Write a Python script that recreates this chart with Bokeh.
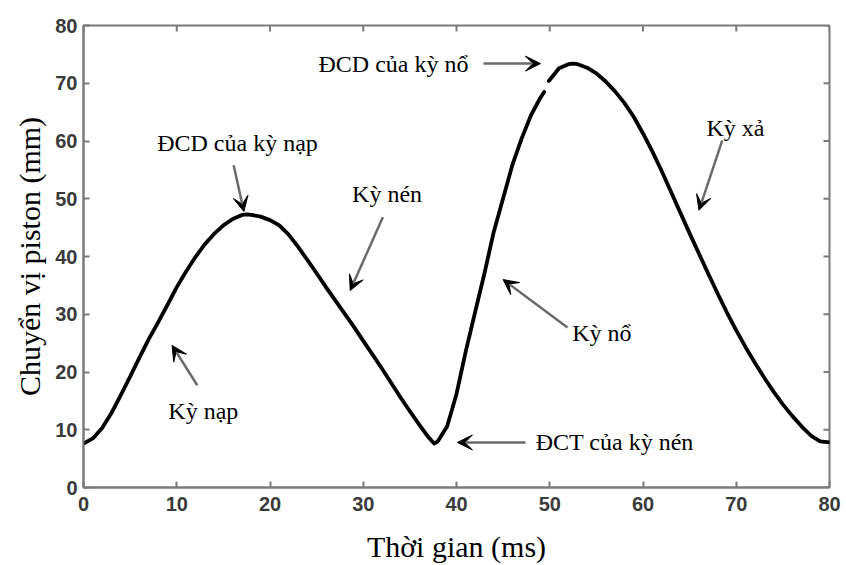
import math
from bokeh.plotting import figure
from bokeh.models import Range1d, FixedTicker, Label, Arrow, VeeHead, ColumnDataSource
from bokeh.embed import file_html
from bokeh.resources import INLINE

# Piston displacement over one engine cycle (time in ms, displacement in mm)
time_ms = [0, 1, 2, 3, 4, 5, 6, 7, 8, 9, 10, 11, 12, 13, 14, 15, 16, 17, 17.5,
           18, 19, 20, 21, 22, 23, 24, 25, 26, 27, 28, 29, 30, 31, 32, 33, 34,
           35, 36, 37, 37.6, 38, 39, 40, 41, 42, 43, 44, 45, 46, 47, 48, 49,
           49.4, 49.9, 51, 52, 52.5, 53, 54, 55, 56, 57, 58, 59, 60, 61, 62,
           63, 64, 65, 66, 67, 68, 69, 70, 71, 72, 73, 74, 75, 76, 77, 78, 79, 80]
displacement_mm = [7.6, 8.5, 10.3, 12.9, 16.0, 19.2, 22.5, 25.7, 28.6, 31.6, 34.7,
                   37.4, 39.9, 42.1, 43.9, 45.4, 46.5, 47.2, 47.3,
                   47.2, 46.9, 46.3, 45.4, 43.8, 41.7, 39.4, 37.1, 34.7, 32.4,
                   30.1, 27.8, 25.4, 23.0, 20.6, 18.1, 15.6, 13.2, 10.9, 8.7, 7.6,
                   8.0, 10.6, 16.2, 23.6, 30.4, 37.1, 44.3, 50.1, 55.9, 60.5, 64.5,
                   67.5, 68.5, 70.4, 72.6, 73.3, 73.4, 73.3, 72.7, 71.7, 70.3, 68.6,
                   66.6, 64.2, 61.3, 58.2, 54.8, 51.2, 47.6, 44.0, 40.5, 37.0, 33.6,
                   30.3, 27.2, 24.3, 21.6, 19.0, 16.6, 14.4, 12.4, 10.6, 9.0, 8.0, 7.8]
# the trace has a small break just before the power-stroke peak
break_after_ms = 49.4

x_ticks = [0, 10, 20, 30, 40, 50, 60, 70, 80]
y_ticks = [0, 10, 20, 30, 40, 50, 60, 70, 80]

x_title = "Thời gian (ms)"
y_title = "Chuyển vị piston (mm)"

# annotation texts: (text, x, y) with the left edge at x
notes = [
    ("ĐCD của kỳ nạp", 7.9, 59.6),
    ("Kỳ nén", 28.8, 50.9),
    ("Kỳ nạp", 9.1, 13.3),
    ("ĐCD của kỳ nổ", 25.2, 73.4),
    ("Kỳ nổ", 52.4, 26.7),
    ("ĐCT của kỳ nén", 48.5, 7.8),
    ("Kỳ xả", 66.8, 62.2),
]
# arrows: (x_start, y_start, x_tip, y_tip)
pointers = [
    (16.1, 55.8, 17.2, 47.8),
    (32.1, 46.8, 28.6, 34.1),
    (12.2, 17.7, 9.5, 24.6),
    (42.9, 73.4, 49.0, 73.4),
    (51.9, 27.7, 45.0, 36.0),
    (47.4, 7.8, 40.1, 7.8),
    (68.5, 60.1, 66.0, 48.0),
]

FRAME = "#7a7a7a"
TICK_TEXT = "#3a3a3a"
SERIF = "Liberation Serif"

x_lo, x_hi = 0, 80
y_lo, y_hi = 0, 80

p = figure(frame_width=746, frame_height=462,
           x_range=Range1d(x_lo, x_hi), y_range=Range1d(y_lo, y_hi),
           output_backend="svg", toolbar_location=None,
           min_border_left=83, min_border_right=17,
           min_border_top=25, min_border_bottom=78)
p.background_fill_color = "white"
p.border_fill_color = "white"
p.outline_line_color = FRAME
p.outline_line_width = 2
p.xgrid.visible = False
p.ygrid.visible = False

for ax, ticks in ((p.xaxis[0], x_ticks), (p.yaxis[0], y_ticks)):
    ax.ticker = FixedTicker(ticks=ticks)
    ax.major_tick_in = 6
    ax.major_tick_out = 0
    ax.major_tick_line_color = FRAME
    ax.major_tick_line_width = 2
    ax.minor_tick_line_color = None
    ax.axis_line_color = FRAME
    ax.axis_line_width = 2
    ax.major_label_text_font = "Liberation Sans"
    ax.major_label_text_font_style = "bold"
    ax.major_label_text_font_size = "20px"
    ax.major_label_text_color = TICK_TEXT
    ax.axis_label_text_font = SERIF
    ax.axis_label_text_font_style = "normal"
    ax.axis_label_text_font_size = "30px"
    ax.axis_label_text_color = "black"

p.xaxis[0].axis_label = x_title
p.xaxis[0].major_label_standoff = 9
p.xaxis[0].axis_label_standoff = 16
p.yaxis[0].axis_label = y_title
p.yaxis[0].major_label_standoff = 6
p.yaxis[0].axis_label_standoff = 6

# mirrored inner ticks along the top and right edges of the frame
p.scatter(x=x_ticks, y=[y_hi] * len(x_ticks), marker="dash", size=12,
          angle=math.pi / 2, line_color=FRAME, line_width=2)
p.scatter(x=[x_hi] * len(y_ticks), y=y_ticks, marker="dash", size=12,
          line_color=FRAME, line_width=2)

# displacement trace, split at the break
cut = time_ms.index(break_after_ms) + 1
seg1 = ColumnDataSource(dict(t=time_ms[:cut], s=displacement_mm[:cut]))
seg2 = ColumnDataSource(dict(t=time_ms[cut:], s=displacement_mm[cut:]))
for src in (seg1, seg2):
    p.line("t", "s", source=src, line_color="black", line_width=3.8,
           line_join="round", line_cap="round")

for x0, y0, x1, y1 in pointers:
    p.add_layout(Arrow(x_start=x0, y_start=y0, x_end=x1, y_end=y1,
                       line_color="#6a6a6a", line_width=2.5,
                       end=VeeHead(size=15, fill_color="black",
                                   line_color="black", line_width=1)))

for txt, x, y in notes:
    p.add_layout(Label(x=x, y=y, text=txt, text_font=SERIF,
                       text_font_size="24px", text_color="black",
                       text_align="left", text_baseline="middle"))

open("out.html", "w").write(file_html(p, INLINE))
